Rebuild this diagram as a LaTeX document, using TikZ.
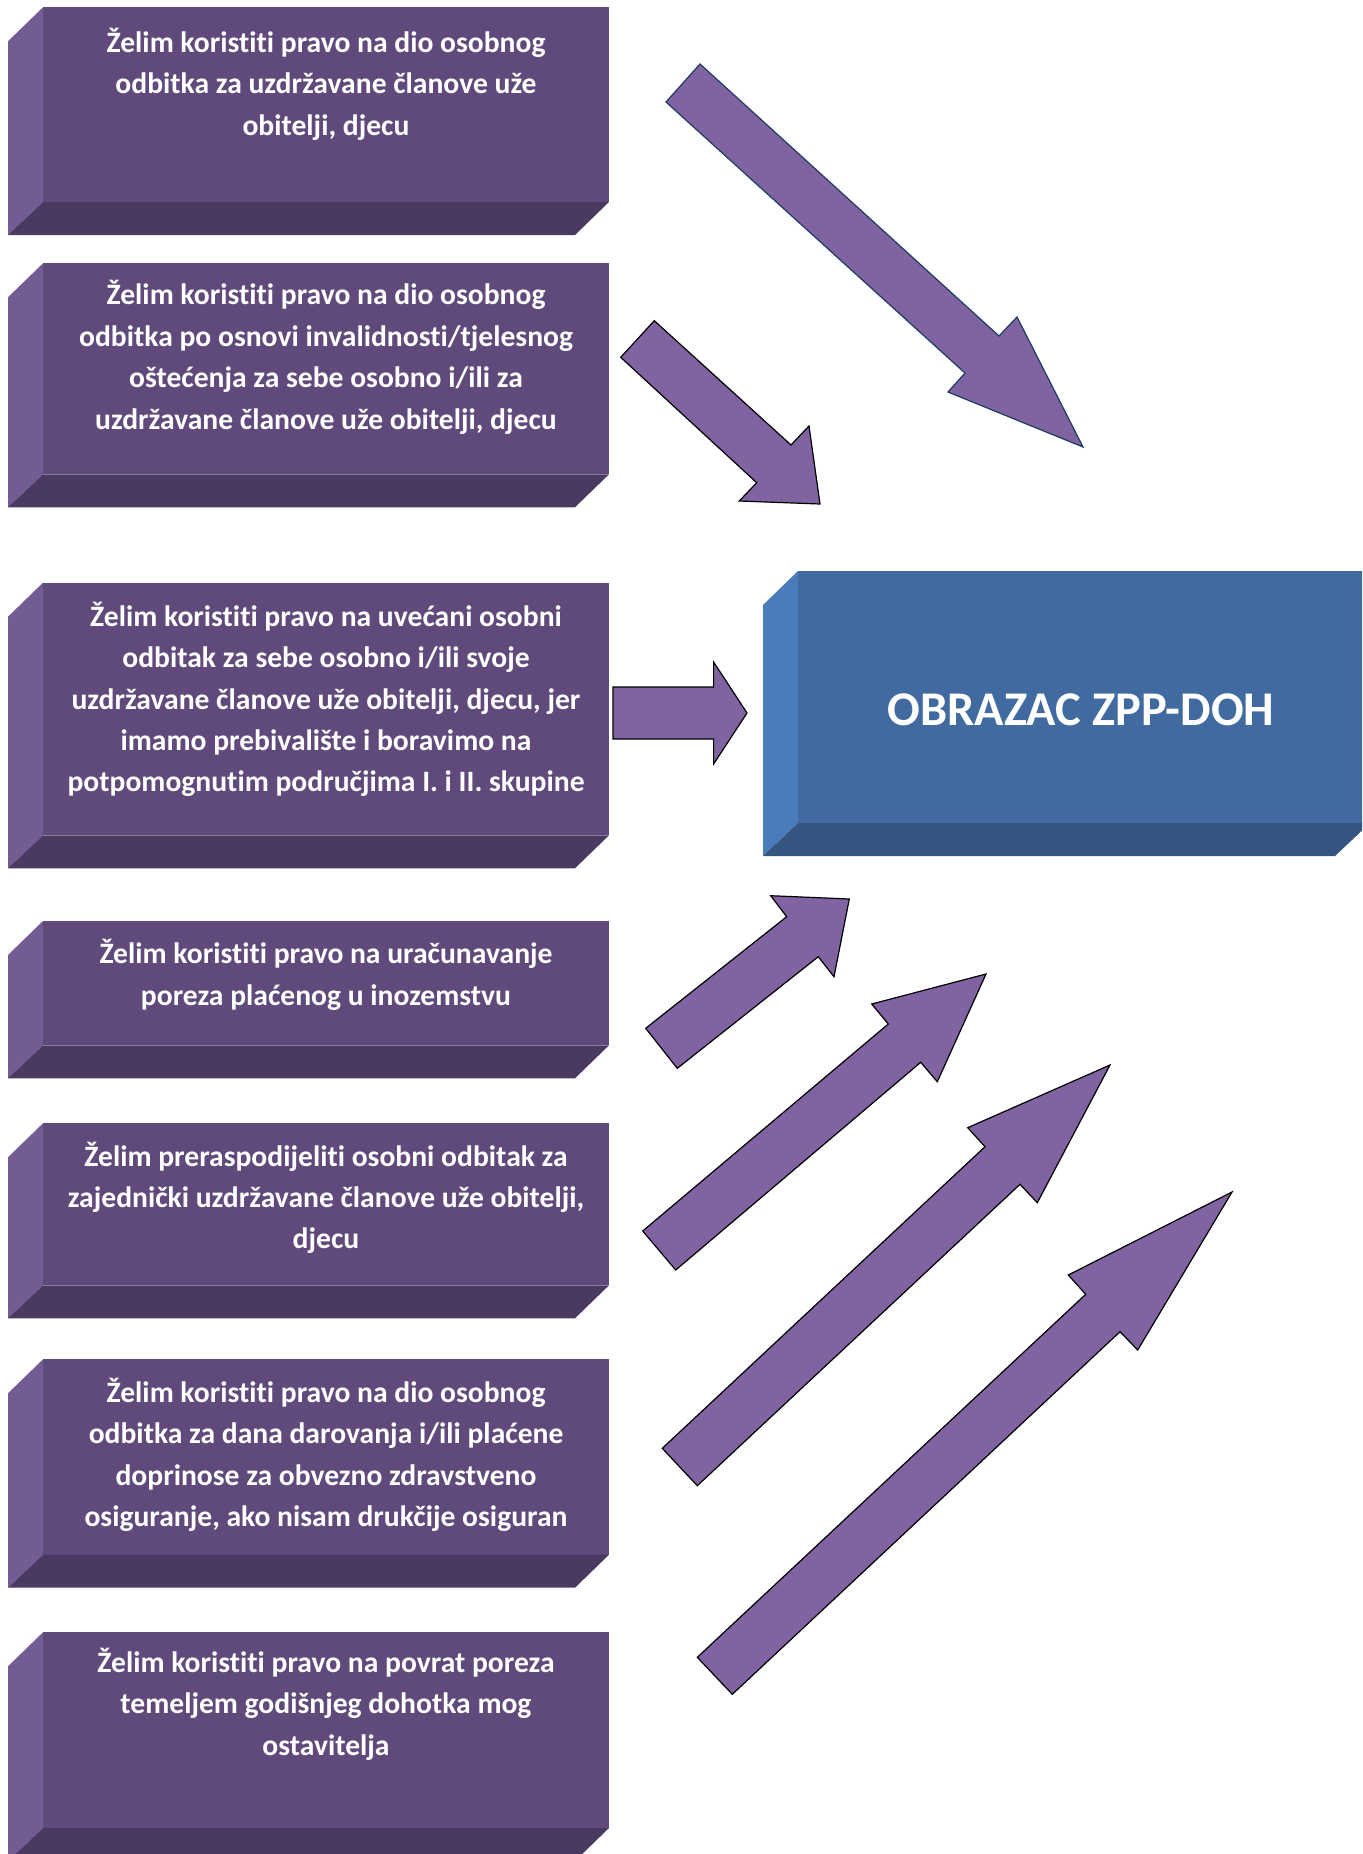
\documentclass[tikz,border=0pt]{standalone}
\usepackage{fontspec}
\setmainfont{Carlito}[Ligatures=NoCommon]
\definecolor{purpleside}{HTML}{735C93}
\definecolor{purplefront}{HTML}{604A7B}
\definecolor{purplebottom}{HTML}{4A3960}
\definecolor{blueside}{HTML}{4A7CBC}
\definecolor{bluefront}{HTML}{416BA0}
\definecolor{bluebottom}{HTML}{34557F}
\definecolor{arrowfill}{HTML}{8064A2}
\definecolor{arrownavy}{HTML}{1F3A5F}
\tikzset{
  boxtext/.style={text=white,font=\bfseries\fontsize{14.8}{20.7}\selectfont,align=center,inner sep=0pt,anchor=north},
  titletext/.style={text=white,font=\bfseries\fontsize{24.2}{29}\selectfont,inner sep=0pt},
  blockarrow/.style={fill=arrowfill,draw=black,line width=0.6pt,line join=miter}
}
\newcommand{\optionbox}[2]{%
  \fill[purpleside] (8,#1+34) -- (43,#1) -- (43,#2-33) -- (8,#2) -- cycle;
  \fill[purplefront] (43,#1) rectangle (609,#2-33);
  \fill[purplebottom] (8,#2) -- (43,#2-33) -- (609,#2-33) -- (575,#2) -- cycle;
}
\begin{document}
\begin{tikzpicture}[x=0.5pt,y=-0.5pt]
  \useasboundingbox (0,0) rectangle (1362,1854);
  \clip (0,0) rectangle (1362,1854);
  \optionbox{7.3}{235}
  \optionbox{263.3}{507.3}
  \optionbox{582.7}{868.3}
  \optionbox{921}{1078.3}
  \optionbox{1123.3}{1318.3}
  \optionbox{1359.3}{1587.7}
  \optionbox{1632.3}{1861}
  \node[boxtext] (opt1) at (326,27.7) {Želim koristiti pravo na dio osobnog\\odbitka za uzdržavane članove uže\\obitelji, djecu};
  \node[boxtext] (opt2) at (326,280.2) {Želim koristiti pravo na dio osobnog\\odbitka po osnovi invalidnosti/tjelesnog\\oštećenja za sebe osobno i/ili za\\uzdržavane članove uže obitelji, djecu};
  \node[boxtext] (opt3) at (326,601.6) {Želim koristiti pravo na uvećani osobni\\odbitak za sebe osobno i/ili svoje\\uzdržavane članove uže obitelji, djecu, jer\\imamo prebivalište i boravimo na\\potpomognutim područjima I. i II. skupine};
  \node[boxtext] (opt4) at (326,938.9) {Želim koristiti pravo na uračunavanje\\poreza plaćenog u inozemstvu};
  \node[boxtext] (opt5) at (326,1141.4) {Želim preraspodijeliti osobni odbitak za\\zajednički uzdržavane članove uže obitelji,\\djecu};
  \node[boxtext] (opt6) at (326,1377.7) {Želim koristiti pravo na dio osobnog\\odbitka za dana darovanja i/ili plaćene\\doprinose za obvezno zdravstveno\\osiguranje, ako nisam drukčije osiguran};
  \node[boxtext] (opt7) at (326,1647.7) {Želim koristiti pravo na povrat poreza\\temeljem godišnjeg dohotka mog\\ostavitelja};
  \fill[blueside] (763,605) -- (798,571) -- (798,823) -- (763,856) -- cycle;
  \fill[bluefront] (798,571) rectangle (1370,823);
  \fill[bluebottom] (763,856) -- (798,823) -- (1370,823) -- (1335,856) -- cycle;
  \node[titletext] (form) at (1081,710) {OBRAZAC ZPP-DOH};
  \draw[blockarrow,draw=arrownavy] (700,64) -- (999,336) -- (1017,317) -- (1083,447) -- (948,392) -- (965,373) -- (666,102) -- cycle;
  \draw[blockarrow] (654.3,320.7) -- (791,445) -- (809,426) -- (820,504) -- (739.3,501) -- (756.7,482.7) -- (620.7,357.3) -- cycle;
  \draw[blockarrow] (613,687) -- (713.6,687) -- (713.6,662) -- (747,713) -- (713.6,764) -- (713.6,739) -- (613,739) -- cycle;
  \draw[blockarrow] (645.7,1028.3) -- (786.7,916.7) -- (770.7,895.7) -- (849.3,899) -- (834,976.7) -- (818.3,956.7) -- (677.3,1068.3) -- cycle;
  \draw[blockarrow] (642.7,1231) -- (888.3,1024) -- (871.7,1004) -- (986,974) -- (937.3,1081.7) -- (920.7,1062.3) -- (675.7,1270) -- cycle;
  \draw[blockarrow] (662.3,1448.3) -- (985,1146.7) -- (967.7,1127.7) -- (1110,1065) -- (1037.3,1202.7) -- (1020,1184.3) -- (697.3,1485.7) -- cycle;
  \draw[blockarrow] (697.3,1657.3) -- (1085.7,1294.3) -- (1068.3,1275) -- (1232,1192) -- (1137.7,1350) -- (1120,1331.7) -- (732.3,1694.3) -- cycle;
\end{tikzpicture}
\end{document}
